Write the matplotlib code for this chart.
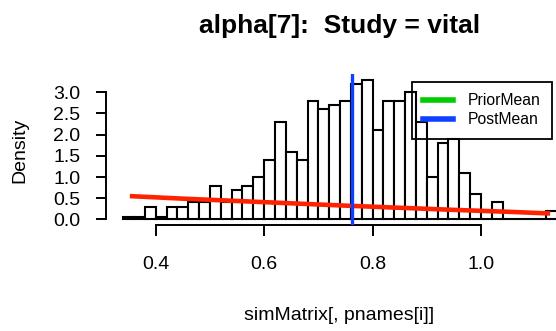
import numpy as np
import matplotlib
matplotlib.use('Agg')
import matplotlib.pyplot as plt
from matplotlib.lines import Line2D

plt.rcParams['font.family'] = ['Liberation Sans', 'DejaVu Sans']

# histogram of the posterior draws (density scale, bin width 0.02)
bin_left = np.round(np.arange(0.34, 1.14, 0.02), 2)
density = [0.05, 0.05, 0.3, 0.05, 0.3, 0.3, 0.4, 0.4, 0.8, 0.4,
           0.7, 0.8, 1.0, 1.4, 2.3, 1.6, 1.4, 2.8, 2.6, 2.7,
           2.8, 3.2, 3.3, 2.1, 2.8, 2.8, 3.0, 2.3, 1.0, 1.8,
           1.9, 1.1, 0.6, 0.0, 0.4, 0.0, 0.0, 0.0, 0.0, 0.2]
bin_width = 0.02

# prior density curve (red)
prior_x = [0.352, 0.45, 0.55, 0.65, 0.75, 0.85, 0.95, 1.05, 1.128]
prior_y = [0.55, 0.49, 0.435, 0.38, 0.325, 0.275, 0.225, 0.18, 0.14]

post_mean = 0.762
xticks = [0.4, 0.6, 0.8, 1.0]
yticks = [0.0, 0.5, 1.0, 1.5, 2.0, 2.5, 3.0]

W, H = 556, 331
fig = plt.figure(figsize=(W / 100, H / 100), dpi=100)
# plot region (R style, runs past the right edge of the picture)
ax = fig.add_axes([106 / W, 1 - 225 / H, 468 / W, 151 / H])

ax.bar(bin_left, density, width=bin_width, align='edge', facecolor='white',
       edgecolor='black', linewidth=1.5, zorder=2)
ax.plot(prior_x, prior_y, color='#FF2200', linewidth=3.3, zorder=3,
        solid_capstyle='butt')
ax.axvline(post_mean, color='#1040FF', linewidth=2.4, zorder=4)

xmin, xmax = bin_left[0], bin_left[-1] + bin_width
dx = 0.04 * (xmax - xmin)
ax.set_xlim(xmin - dx, xmax + dx)
ymax = max(density)
ax.set_ylim(-0.04 * ymax, ymax * 1.04)

for s in ['top', 'right']:
    ax.spines[s].set_visible(False)
ax.spines['left'].set_bounds(yticks[0], yticks[-1])
ax.spines['bottom'].set_bounds(xticks[0], xticks[-1])
ax.spines['left'].set_linewidth(1.4)
ax.spines['bottom'].set_linewidth(1.4)

ax.set_xticks(xticks)
ax.set_xticklabels([f'{t:.1f}' for t in xticks])
ax.set_yticks(yticks)
ax.set_yticklabels([f'{t:.1f}' for t in yticks])
ax.tick_params(axis='x', direction='out', length=8, width=1.4, pad=14,
               labelsize=14)
ax.tick_params(axis='y', direction='out', length=7.5, width=1.4, pad=11,
               labelsize=14)

handles = [Line2D([], [], color='#00CC00', linewidth=4),
           Line2D([], [], color='#1040FF', linewidth=4)]
leg = ax.legend(handles, ['PriorMean', 'PostMean'], loc='upper left',
                bbox_to_anchor=(411.7 / W, 1 - 81.7 / H),
                bbox_transform=fig.transFigure, borderaxespad=0,
                fontsize=11.3, handlelength=1.9, handletextpad=0.9,
                borderpad=0.75, labelspacing=0.25, fancybox=False,
                framealpha=1)
leg.get_frame().set_facecolor('none')
leg.get_frame().set_edgecolor('black')
leg.get_frame().set_linewidth(1.3)
leg.set_zorder(5)

fig.text(340 / W, 1 - 33 / H, 'alpha[7]:  Study = vital', ha='center',
         va='baseline', fontsize=19, fontweight='bold')
fig.text(339 / W, 1 - 320 / H, 'simMatrix[, pnames[i]]', ha='center',
         va='baseline', fontsize=14)
fig.text(19.5 / W, 1 - 150 / H, 'Density', ha='center', va='center',
         rotation=90, fontsize=14)

fig.savefig('out.png', dpi=100)
